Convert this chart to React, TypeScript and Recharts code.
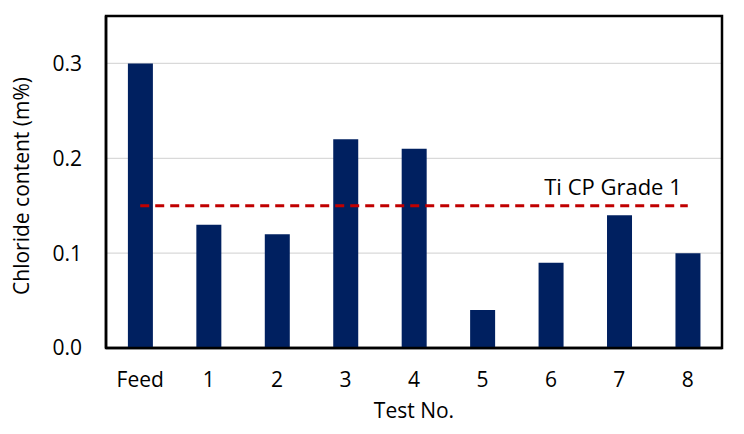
import React from 'react';
import { ComposedChart, Bar, Line, XAxis, YAxis, CartesianGrid, ReferenceArea } from 'recharts';

const categories = ['Feed', '1', '2', '3', '4', '5', '6', '7', '8'];
const chloride = [0.30, 0.13, 0.12, 0.22, 0.21, 0.04, 0.09, 0.14, 0.10];
const gradeLimit = [0.15, 0.15, 0.15, 0.15, 0.15, 0.15, 0.15, 0.15, 0.15];
const yTicks = [0, 0.1, 0.2, 0.3];
const yMax = 0.35;
const limitName = 'Ti CP Grade 1';
const yTitle = 'Chloride content (m%)';
const xTitle = 'Test No.';

const data = categories.map((c, i) => ({ name: c, value: chloride[i], limit: gradeLimit[i] }));

const FONT = '"Open Sans", sans-serif';

const LimitLabel = (props: any) => {
  const { x, y, index } = props;
  if (index !== categories.length - 1) return null;
  return (
    <text x={x - 6} y={y - 11} textAnchor="end" fontFamily={FONT} fontSize={22} fill="#000">
      {limitName}
    </text>
  );
};

const YTitle = (props: any) => {
  const vb = props.viewBox || {};
  const cx = 29;
  const cy = vb.y + vb.height / 2 + 4;
  return (
    <text x={cx} y={cy} transform={`rotate(-90, ${cx}, ${cy})`} textAnchor="middle" fontFamily={FONT} fontSize={21} fill="#000">
      {yTitle}
    </text>
  );
};

export default function App() {
  return (
    <div style={{ position: 'absolute', left: 0, top: 0 }}>
      <ComposedChart
        width={744}
        height={434}
        data={data}
        margin={{ top: 16, right: 22, bottom: 0, left: 0 }}
        barCategoryGap="32%"
      >
        <CartesianGrid vertical={false} stroke="#d9d9d9" strokeWidth={1.2} />
        <XAxis
          dataKey="name"
          height={86}
          stroke="#000"
          strokeWidth={2.5}
          axisLine={true}
          tickLine={false}
          tickSize={0}
          tickMargin={24}
          tick={{ fill: '#000', fontFamily: FONT, fontSize: 21 }}
          interval={0}
          label={{ value: xTitle, position: 'insideBottom', offset: 16, fill: '#000', fontFamily: FONT, fontSize: 21 }}
        />
        <YAxis
          width={106}
          domain={[0, yMax]}
          ticks={yTicks}
          stroke="#000"
          strokeWidth={2.5}
          axisLine={true}
          tickLine={false}
          tickSize={0}
          tickMargin={24}
          tickFormatter={(v: number) => v.toFixed(1)}
          tick={{ fill: '#000', fontFamily: FONT, fontSize: 21, stroke: 'none' }}
          label={<YTitle />}
        />
        <YAxis
          yAxisId="inner"
          mirror={true}
          width={0}
          domain={[0, yMax]}
          ticks={yTicks}
          axisLine={false}
          tickLine={{ stroke: '#000', strokeWidth: 2 }}
          tickSize={9}
          tickFormatter={() => ''}
        />
        <Bar dataKey="value" fill="#002060" isAnimationActive={false} />
        <Line
          dataKey="limit"
          stroke="#C00000"
          strokeWidth={3}
          strokeDasharray="9 6"
          dot={false}
          activeDot={false}
          isAnimationActive={false}
          label={<LimitLabel />}
        />
        <ReferenceArea y1={0} y2={yMax} fill="none" fillOpacity={0} stroke="#000" strokeWidth={2.5} ifOverflow="visible" />
      </ComposedChart>
    </div>
  );
}
